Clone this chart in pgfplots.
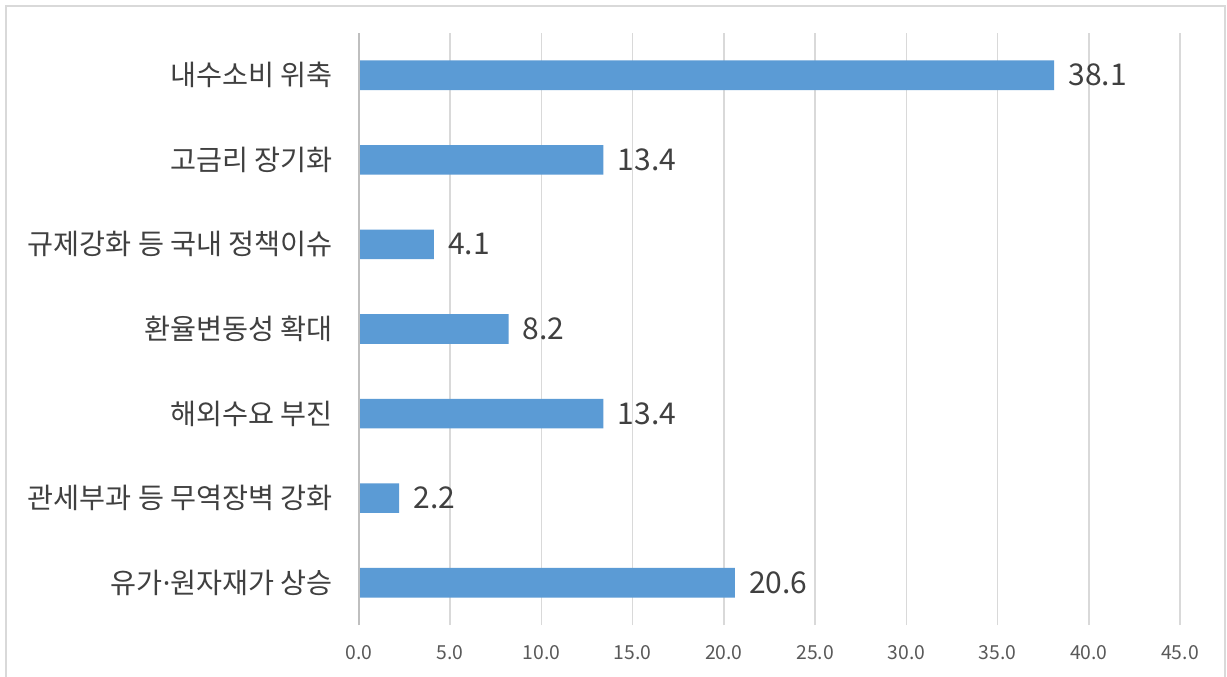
\documentclass[border=0pt]{standalone}
\usepackage{pgfplots}
\pgfplotsset{compat=1.18}
\usepackage{fontspec}
\setmainfont{Noto Sans CJK KR}
\newfontfamily\dotfont{Noto Sans}
\definecolor{barblue}{HTML}{5B9BD5}
\definecolor{gridgray}{HTML}{D9D9D9}
\definecolor{axisgray}{HTML}{BFBFBF}
\definecolor{ticktext}{HTML}{595959}
\definecolor{labtext}{HTML}{404040}
\begin{document}
\begin{tikzpicture}
\useasboundingbox (-269.25pt,-38.25pt) rectangle (651pt,468.75pt);
\fill[white] (-269.25pt,-38.25pt) rectangle (651pt,468.75pt);
\draw[gridgray, line width=1.5pt] (-264.75pt,-45pt) rectangle (649.5pt,464.25pt);
\begin{axis}[
  at={(0,0)}, anchor=south west,
  scale only axis,
  width=615.75pt, height=444pt,
  xmin=0, xmax=45,
  ymin=-0.5, ymax=6.5,
  xtick={0,5,...,45},
  ytick={0,1,2,3,4,5,6},
  yticklabels={유가{\dotfont·}원자재가 상승, 관세부과 등 무역장벽 강화, 해외수요 부진, 환율변동성 확대, 규제강화 등 국내 정책이슈, 고금리 장기화, 내수소비 위축},
  major tick length=0pt,
  axis line style={draw=none},
  xmajorgrids,
  grid style={gridgray, line width=1.1pt},
  /pgf/number format/assume math mode=true,
  x tick label style={/pgf/number format/.cd, fixed, fixed zerofill, precision=1, /tikz/.cd,
     font=\fontsize{14.5}{16}\selectfont, text=ticktext, anchor=center, yshift=-21pt},
  yticklabel style={font=\fontsize{21.2}{23}\selectfont, text=labtext, anchor=east, inner sep=0pt, xshift=-19.5pt},
  xbar, bar width=0.35,
  nodes near coords,
  nodes near coords style={/pgf/number format/.cd, fixed, fixed zerofill, precision=1, /tikz/.cd,
     font=\fontsize{22.5}{24}\selectfont, text=labtext, anchor=west, inner sep=0pt, xshift=10.5pt},
  clip=false,
]
\addplot[fill=barblue, draw=none] coordinates {
  (20.6,0) (2.2,1) (13.4,2) (8.2,3) (4.1,4) (13.4,5) (38.1,6)
};
\draw[axisgray, line width=1.1pt] (axis cs:0,-0.5) -- (axis cs:0,6.5);
\end{axis}
\end{tikzpicture}
\end{document}
